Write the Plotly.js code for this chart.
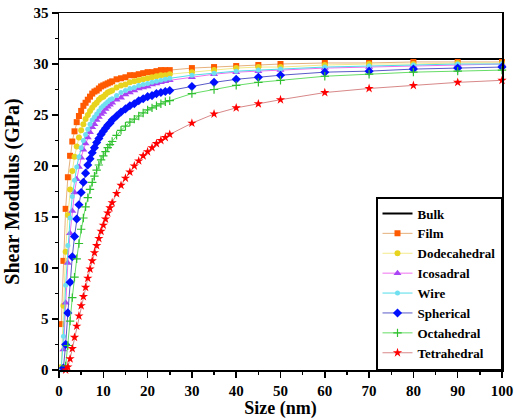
<!DOCTYPE html>
<html>
<head>
<meta charset="utf-8">
<script src="https://cdn.plot.ly/plotly-3.0.1.min.js"></script>
<style>html,body{margin:0;padding:0;background:#fff;}#chart{width:514px;height:419px;}</style>
</head>
<body>
<div id="chart"></div>
<script>
// Size (nm)
const sizes = [0.5,1,1.5,2,2.5,3,3.5,4,4.5,5,5.5,6,6.5,7,7.5,8,8.5,9,9.5,10,10.5,11,11.5,12,
  13,14,15,16,17,18,19,20,21,22,23,24,25,30,35,40,45,50,60,70,80,90,100];
const bulkX = [0, 100];
const bulkY = [30.5, 30.5];
const film = [4.5,10.7,15.8,18.9,21.0,22.4,23.4,24.3,24.9,25.4,25.9,26.2,26.5,26.8,27.1,27.3,27.4,27.6,27.8,27.9,28.0,28.1,28.2,28.3,
  28.5,28.6,28.7,28.9,28.9,29.0,29.1,29.2,29.2,29.3,29.4,29.4,29.4,29.6,29.7,29.8,29.9,30.0,30.1,30.1,30.2,30.2,30.2];
const dodecahedral = [0.3,6.3,11.6,15.2,17.7,19.5,20.9,21.9,22.8,23.5,24.1,24.6,25.0,25.4,25.7,26.0,26.2,26.5,26.7,26.8,27.0,27.2,27.3,27.4,
  27.7,27.9,28.0,28.2,28.3,28.4,28.5,28.6,28.7,28.8,28.9,28.9,29.0,29.2,29.4,29.6,29.7,29.7,29.9,30.0,30.0,30.1,30.1];
const icosadral = [null,2.0,6.6,10.5,13.4,15.6,17.4,18.7,19.9,20.8,21.6,22.2,22.8,23.3,23.8,24.1,24.5,24.8,25.1,25.3,25.6,25.8,26.0,26.2,
  26.5,26.7,27.0,27.2,27.4,27.6,27.7,27.8,28.0,28.1,28.2,28.3,28.4,28.7,29.0,29.2,29.3,29.4,29.6,29.7,29.8,29.9,30.0];
const wire = [0,3.3,8.3,12.2,14.9,17.0,18.6,19.9,20.9,21.8,22.5,23.1,23.6,24.1,24.5,24.8,25.1,25.4,25.7,25.9,26.1,26.3,26.5,26.6,
  26.9,27.2,27.4,27.6,27.7,27.9,28.0,28.1,28.2,28.3,28.4,28.5,28.6,28.9,29.1,29.3,29.4,29.5,29.7,29.8,29.9,30.0,30.0];
const spherical = [null,0.2,2.5,5.6,8.6,11.1,13.1,14.8,16.2,17.4,18.4,19.3,20.1,20.7,21.3,21.8,22.3,22.7,23.1,23.4,23.7,24.0,24.2,24.5,
  24.9,25.3,25.6,25.9,26.1,26.4,26.6,26.8,26.9,27.1,27.2,27.3,27.4,27.8,28.2,28.5,28.7,28.9,29.2,29.3,29.5,29.6,29.7];
const octahedral = [null,null,0.4,2.4,4.8,7.1,9.1,10.9,12.4,13.8,14.9,16.0,16.9,17.7,18.4,19.0,19.6,20.1,20.6,21.0,21.4,21.8,22.1,22.4,
  23.0,23.5,23.9,24.3,24.6,24.9,25.2,25.5,25.7,25.9,26.1,26.3,26.4,27.1,27.5,27.9,28.2,28.4,28.8,29.0,29.2,29.3,29.4];
const tetrahedral = [null,null,0,0.3,1.1,2.1,3.2,4.3,5.3,6.3,7.2,8.1,9.0,9.9,10.7,11.5,12.2,12.9,13.6,14.2,14.8,15.4,15.9,16.4,
  17.3,18.1,18.8,19.4,20.0,20.5,21.0,21.4,21.8,22.2,22.5,22.8,23.1,24.2,25.1,25.7,26.1,26.5,27.2,27.6,27.9,28.2,28.4];

const names = ['Film','Dodecahedral','Icosadral','Wire','Spherical','Octahedral','Tetrahedral'];
const series = [film, dodecahedral, icosadral, wire, spherical, octahedral, tetrahedral];
const lineColors = ['#e6b07c','#f2ea8a','#f070f0','#50dce8','#5a5ac8','#66dd66','#d88888'];
const markerColors = ['#ff5a00','#e8d41e','#a844f4','#70e0f0','#0010ff','#30c030','#ff0000'];
const symbols = ['square','circle','triangle-up','circle','diamond','cross-thin','star'];
const msizes = [6,6,7,5,7,6,7];

const serif = 'Liberation Serif, Times New Roman, serif';
const traces = [{
  x: bulkX, y: bulkY, name: 'Bulk', mode: 'lines', type: 'scatter',
  line: {color: '#000', width: 2}
}];
series.forEach((s, i) => {
  traces.push({
    x: sizes, y: s, name: names[i], type: 'scatter', mode: 'lines+markers',
    line: {color: lineColors[i], width: 1},
    marker: {symbol: symbols[i], size: msizes[i], color: markerColors[i],
      line: {color: markerColors[i], width: symbols[i] === 'cross-thin' ? 1.2 : 0}},
    cliponaxis: false, connectgaps: false
  });
});

const axisCommon = {
  showline: true, linecolor: '#000', linewidth: 1.5, mirror: true,
  ticks: 'outside', ticklen: 6, tickwidth: 1.5, tickcolor: '#000',
  showgrid: false, zeroline: false,
  tickfont: {family: serif, size: 15, color: '#000', weight: 'bold'}
};
const layout = {
  width: 514, height: 419,
  margin: {l: 59, r: 12, t: 13, b: 49},
  paper_bgcolor: '#fff', plot_bgcolor: '#fff',
  showlegend: true,
  xaxis: Object.assign({}, axisCommon, {
    range: [0, 100], dtick: 10, tick0: 0,
    minor: {dtick: 5, ticks: 'outside', ticklen: 3, tickwidth: 1.5, tickcolor: '#000'},
    title: {text: 'Size (nm)', font: {family: serif, size: 18, color: '#000', weight: 'bold'}, standoff: 4}
  }),
  yaxis: Object.assign({}, axisCommon, {
    range: [0, 35], dtick: 5, tick0: 0,
    minor: {dtick: 2.5, ticks: 'outside', ticklen: 3, tickwidth: 1.5, tickcolor: '#000'},
    title: {text: 'Shear Modulus (GPa)', font: {family: serif, size: 20, color: '#000', weight: 'bold'}, standoff: 8}
  }),
  legend: {
    x: 1, xanchor: 'right', y: 0, yanchor: 'bottom',
    bgcolor: '#fff', bordercolor: '#000', borderwidth: 1.5,
    font: {family: serif, size: 13, color: '#000', weight: 'bold'},
    itemwidth: 30, tracegroupgap: 0
  }
};
Plotly.newPlot('chart', traces, layout, {displayModeBar: false, staticPlot: true});
</script>
</body>
</html>
